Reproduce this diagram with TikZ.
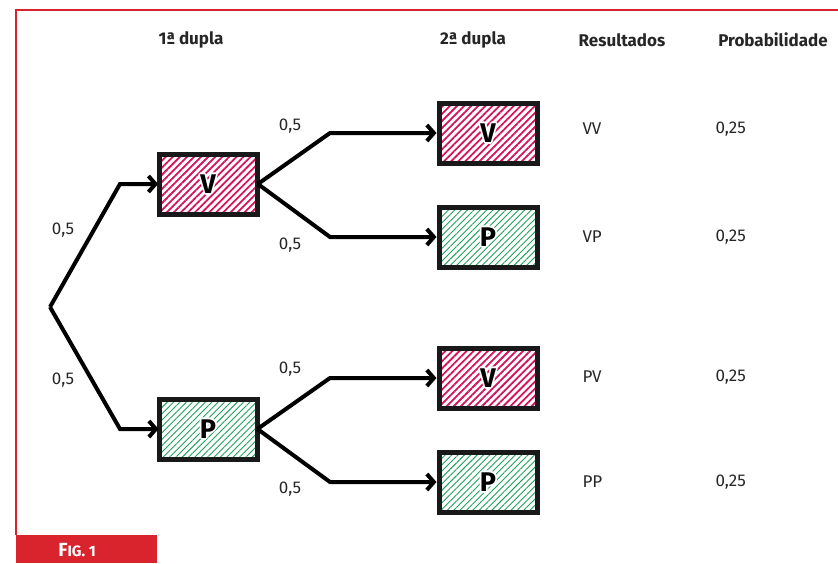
\documentclass[tikz,border=0pt]{standalone}
\usepackage{fontspec}
\setmainfont{Fira Sans}
\usetikzlibrary{arrows.meta,patterns.meta}
\definecolor{frame}{HTML}{D9232D}
\definecolor{hred}{HTML}{D4145A}
\definecolor{hgreen}{HTML}{1FA05A}
\tikzset{
  x=1pt,y=-1pt,
  edge/.style={line width=4pt,line join=miter},
  arr/.style={edge,-{Straight Barb[length=7pt,width=16pt,line width=4pt]}},
  boxbase/.style={draw=black!90,line width=5pt,minimum width=98pt,minimum height=60pt,inner sep=0pt,
     font=\fontsize{27}{29}\selectfont\bfseries},
  vbox/.style={boxbase,pattern={Lines[angle=45,distance=5pt,line width=1.8pt]},pattern color=hred},
  pbox/.style={boxbase,pattern={Lines[angle=45,distance=4.5pt,line width=0.9pt]},pattern color=hgreen},
  head/.style={font=\fontsize{17}{19}\selectfont\bfseries,text=black!85},
  lab/.style={font=\fontsize{17}{19}\selectfont,text=black!85},
  res/.style={lab,anchor=west},
}
\newcommand{\wcopy}[2]{\rlap{\hspace{#1}\raisebox{#2}{\color{white}\letterarg}}}
\newcommand{\halo}[1]{\def\letterarg{#1}%
  \wcopy{1.7pt}{0pt}\wcopy{-1.7pt}{0pt}\wcopy{0pt}{1.7pt}\wcopy{0pt}{-1.7pt}%
  \wcopy{1.2pt}{1.2pt}\wcopy{-1.2pt}{-1.2pt}\wcopy{1.2pt}{-1.2pt}\wcopy{-1.2pt}{1.2pt}%
  {\color{black}#1}}
\begin{document}
\begin{tikzpicture}
\useasboundingbox (0,0) rectangle (838,563);
% frame
\draw[frame,line width=2pt] (16,535) -- (16,10) -- (838,10);
\fill[frame] (16,535) rectangle (157,563);
\node[text=white,font=\fontsize{19}{20}\selectfont\bfseries] (fig) at (77,550) {F\fontsize{15}{16}\selectfont IG. 1};
% headers
\node[head] (h1) at (191,40) {1ª dupla};
\node[head] (h2) at (473,40) {2ª dupla};
\node[head] (h3) at (622,40) {Resultados};
\node[head] (h4) at (773,40) {Probabilidade};
% boxes
\node[vbox] (a) at (208,184) {\halo{V}};
\node[pbox] (b) at (208,429) {\halo{P}};
\node[vbox] (c) at (488,133) {\halo{V}};
\node[pbox] (d) at (488,237) {\halo{P}};
\node[vbox] (e) at (488,378) {\halo{V}};
\node[pbox] (f) at (488,482) {\halo{P}};
% connectors
\coordinate (r) at (50,307);
\draw[arr] (r) -- (120,184) -- (a.west);
\draw[arr] (r) -- (120,429) -- (b.west);
\draw[arr] (a.east) -- (330,133) -- (c.west);
\draw[arr] (a.east) -- (330,237) -- (d.west);
\draw[arr] (b.east) -- (330,378) -- (e.west);
\draw[arr] (b.east) -- (330,482) -- (f.west);
% labels
\node[lab] (p1) at (63,230) {0,5};
\node[lab] (p2) at (63,380) {0,5};
\node[lab] (p3) at (290,126) {0,5};
\node[lab] (p4) at (290,245) {0,5};
\node[lab] (p5) at (290,369) {0,5};
\node[lab] (p6) at (290,489) {0,5};
% results
\node[res] (r1) at (579,129) {VV};
\node[res] (r2) at (579,237) {VP};
\node[res] (r3) at (579,377) {PV};
\node[res] (r4) at (579,482) {PP};
\node[res] (q1) at (712,129) {0,25};
\node[res] (q2) at (712,237) {0,25};
\node[res] (q3) at (712,377) {0,25};
\node[res] (q4) at (712,482) {0,25};
\end{tikzpicture}
\end{document}
